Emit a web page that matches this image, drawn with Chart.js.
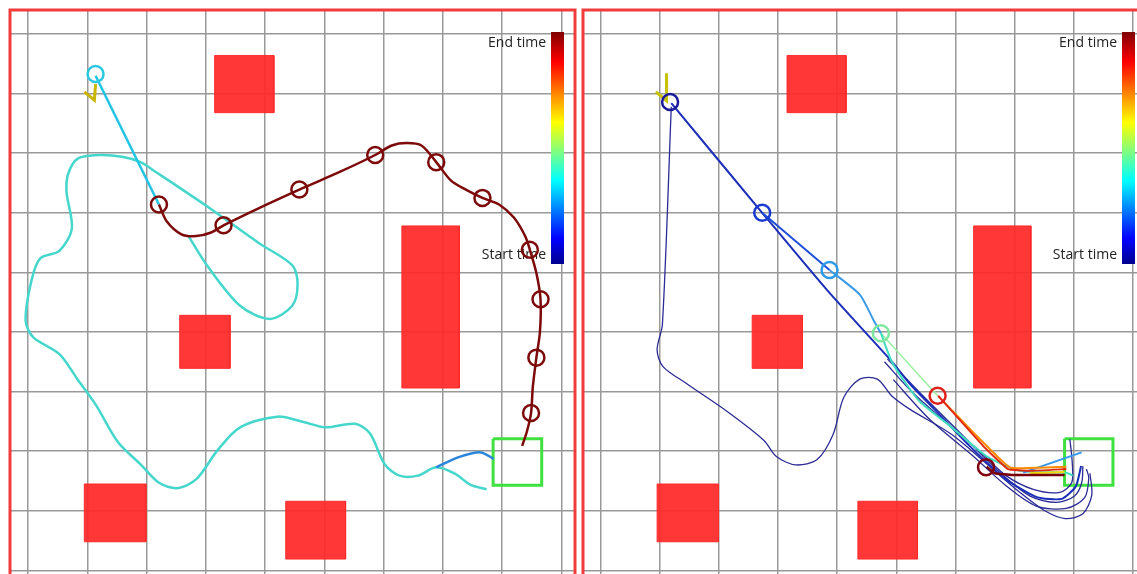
<!DOCTYPE html>
<html>
<head>
<meta charset="utf-8">
<script src="https://cdn.jsdelivr.net/npm/chart.js@4.4.0/dist/chart.umd.min.js"></script>
<style>
    html, body { margin: 0; padding: 0; background: #fff; overflow: hidden; }
    body { width: 1137px; height: 574px; position: relative; }
    .panel { position: absolute; top: 0; width: 580px; height: 600px; }
    #p1 { left: 0; }
    #p2 { left: 580px; }
</style>
</head>
<body>
<div class="panel" id="p1"><canvas id="chart"></canvas></div>
<div class="panel" id="p2"><canvas id="chart2"></canvas></div>
<script>
/**
 * Two maps side by side, grid cells of 1 unit, y grows downwards
 */

const gridTicks = [0, 1, 2, 3, 4, 5, 6, 7, 8, 9];

// obstacles as [x0, y0, x1, y1]
const obstacles = [
    [3.15, 0.36, 4.15, 1.32],
    [2.56, 4.72, 3.41, 5.61],
    [6.31, 3.22, 7.28, 5.94],
    [0.95, 7.55, 1.99, 8.52],
    [4.35, 7.84, 5.36, 8.81]
];
const goalBox = [7.85, 6.79, 8.67, 7.57];

// left map
const leftHeading = [[0.95, 0.97], [1.12, 1.11], [1.14, 0.84]];
const leftStart = [[1.14, 0.67]];
const leftFirstLeg = [[1.14, 0.70], [2.21, 2.86]];
const leftLoop = [
    [2.71, 3.39], [3.02, 3.88], [3.58, 4.56], [4.08, 4.78], [4.46, 4.56], [4.55, 4.19],
    [4.46, 3.88], [3.90, 3.51], [3.02, 2.89], [2.15, 2.31], [1.90, 2.15], [1.59, 2.06],
    [1.21, 2.03], [0.84, 2.09], [0.68, 2.34], [0.65, 2.65], [0.74, 3.26], [0.53, 3.64],
    [0.21, 3.76], [0.06, 4.13], [-0.04, 4.81], [0.09, 5.09], [0.53, 5.37], [0.84, 5.80],
    [1.15, 6.23], [1.52, 6.85], [1.90, 7.22], [2.21, 7.53], [2.52, 7.62], [2.84, 7.47],
    [3.21, 6.97], [3.58, 6.60], [4.21, 6.42], [4.65, 6.51], [5.02, 6.60], [5.52, 6.54],
    [5.77, 6.70], [6.02, 7.22], [6.27, 7.41], [6.58, 7.41], [6.89, 7.27], [7.21, 7.38],
    [7.46, 7.56], [7.74, 7.64]
];
const leftTail = [[6.89, 7.27], [7.27, 7.10], [7.64, 7.02], [7.86, 7.13]];
const leftReplan = [
    [2.21, 2.86], [2.34, 3.14], [2.59, 3.36], [2.84, 3.39], [3.09, 3.33], [3.30, 3.21],
    [3.90, 2.92], [4.58, 2.61], [5.27, 2.31], [5.86, 2.03], [6.14, 1.87], [6.39, 1.83],
    [6.64, 1.87], [6.89, 2.15], [7.14, 2.46], [7.39, 2.61], [7.67, 2.75], [7.95, 2.86],
    [8.20, 3.08], [8.39, 3.39], [8.47, 3.62], [8.58, 4.01], [8.65, 4.45], [8.64, 5.00],
    [8.58, 5.43], [8.52, 5.92], [8.49, 6.36], [8.42, 6.67], [8.34, 6.91]
];
const leftMarks = [
    [2.21, 2.86], [3.30, 3.21], [4.58, 2.61], [5.86, 2.03], [6.89, 2.15],
    [7.67, 2.75], [8.47, 3.62], [8.65, 4.45], [8.58, 5.43], [8.49, 6.36]
];

// right map
const rightHeading = [[1.11, 0.66], [1.11, 1.12], [0.93, 0.97]];
const rightDetour = [
    [1.19, 1.22], [1.04, 4.87], [0.95, 5.30], [1.05, 5.58], [1.44, 5.86], [2.16, 6.35],
    [2.76, 6.82], [2.97, 7.09], [3.30, 7.23], [3.66, 7.14], [3.93, 6.72], [4.11, 6.10],
    [4.38, 5.79], [4.68, 5.79], [4.92, 6.07], [5.22, 6.29], [5.94, 6.72], [6.54, 7.22],
    [7.08, 7.68], [7.50, 7.99], [7.86, 8.13], [8.16, 8.05], [8.31, 7.74], [8.28, 7.37]
];
const rightHook1 = [[4.80, 5.50], [5.28, 6.02], [5.85, 6.52], [6.41, 7.00], [6.86, 7.41], [7.32, 7.64], [7.77, 7.69], [7.97, 7.53], [7.98, 7.19], [7.94, 6.80]];
const rightHook2 = [[4.85, 5.45], [5.40, 6.02], [6.13, 6.74], [6.69, 7.30], [7.26, 7.75], [7.71, 7.86], [8.02, 7.75], [8.14, 7.53], [8.16, 7.25]];
const rightHook3 = [[4.95, 5.80], [5.56, 6.46], [6.30, 7.08], [6.86, 7.58], [7.37, 7.92], [7.88, 7.96], [8.19, 7.78], [8.26, 7.45], [8.22, 7.30]];
const rightMain = [[1.19, 1.16], [2.73, 3.00], [3.84, 4.31], [4.92, 5.49], [5.22, 5.86], [5.64, 6.29], [6.24, 6.91], [6.84, 7.46], [7.38, 7.77], [7.80, 7.80], [8.04, 7.59], [8.13, 7.25]];
const rightBlue = [[2.73, 3.00], [3.87, 3.96]];
const rightLightBlue = [[3.87, 3.96], [4.38, 4.37], [4.62, 4.81], [4.74, 5.02]];
const rightCyan = [[4.74, 5.02], [4.92, 5.49], [5.16, 5.86], [5.40, 6.17], [5.94, 6.60], [6.54, 7.09], [7.09, 7.33], [7.88, 7.36], [7.99, 7.41]];
const rightGreen = [[4.74, 5.02], [5.70, 6.07]];
const rightSky = [[7.15, 7.36], [8.14, 7.02]];
const rightYellow = [[7.26, 7.37], [7.85, 7.35]];
const rightOrange = [[5.79, 6.16], [6.92, 7.27], [7.88, 7.26]];
const rightRed = [[5.71, 6.07], [6.47, 6.91], [6.89, 7.30], [7.26, 7.33], [7.88, 7.30]];
const rightDarkRed = [[6.53, 7.26], [6.67, 7.37], [6.98, 7.40], [7.85, 7.40]];
const rightMarks = [[1.17, 1.14], [2.73, 3.00], [3.87, 3.96], [4.74, 5.02], [5.70, 6.07], [6.52, 7.27]];

const pts = arr => arr.map(([x, y]) => ({ x, y }));
const rect = ([x0, y0, x1, y1]) => [[x0, y0], [x1, y0], [x1, y1], [x0, y1], [x0, y0]];

function path(data, color, width, tension) {
    return {
        data: pts(data), borderColor: color, borderWidth: width,
        tension: tension === undefined ? 0.3 : tension,
        pointRadius: 0, fill: false
    };
}

function marks(data, color) {
    return {
        data: pts(data), showLine: false, pointRadius: 8,
        pointBorderColor: color, pointBorderWidth: 2.5,
        pointBackgroundColor: 'rgba(0,0,0,0)'
    };
}

function baseLayers() {
    const layers = obstacles.map(o => ({
        data: pts(rect(o)), borderColor: 'rgba(255,40,40,0.93)', borderWidth: 1,
        backgroundColor: 'rgba(255,40,40,0.93)', fill: 'shape', pointRadius: 0, tension: 0
    }));
    layers.push(path(rect(goalBox), '#3fe03f', 3, 0));
    return layers;
}

// jet colour bar with its two labels
const colorbar = {
    id: 'colorbar',
    beforeDatasetsDraw(chart, args, opts) {
        const { ctx, chartArea } = chart;
        const x = chartArea.right - opts.offset, y = chartArea.top + 22, w = 13, h = 232;
        const g = ctx.createLinearGradient(0, y + h, 0, y);
        g.addColorStop(0, '#00008f');
        g.addColorStop(0.11, '#0000ff');
        g.addColorStop(0.36, '#00ffff');
        g.addColorStop(0.61, '#ffff00');
        g.addColorStop(0.87, '#ff0000');
        g.addColorStop(1, '#800000');
        ctx.save();
        ctx.fillStyle = g;
        ctx.fillRect(x, y, w, h);
        ctx.fillStyle = '#222';
        ctx.font = '14px "Open Sans", sans-serif';
        ctx.textAlign = 'right';
        ctx.textBaseline = 'middle';
        ctx.fillText('End time', x - 5, y + 11);
        ctx.fillText('Start time', x - 5, y + h - 9);
        ctx.restore();
    }
};

// red frame round the map
const frame = {
    id: 'frame',
    afterDraw(chart) {
        const { ctx, chartArea: a } = chart;
        ctx.save();
        ctx.strokeStyle = '#f03c3c';
        ctx.lineWidth = 3;
        ctx.strokeRect(a.left, a.top, a.right - a.left, a.bottom - a.top);
        ctx.restore();
    }
};

function axis(min, max, reverse) {
    return {
        type: 'linear', min: min, max: max, reverse: reverse,
        afterBuildTicks: s => { s.ticks = gridTicks.map(v => ({ value: v })); },
        ticks: { display: false },
        grid: { color: '#999', lineWidth: 1.5, drawTicks: false },
        border: { display: false }
    };
}

function makeChart(id, datasets, xMin, xMax, barOffset, padding) {
    // first in the list is drawn at the bottom
    datasets.forEach((d, i) => { d.order = datasets.length - i; });
    return new Chart(id, {
        type: 'line',
        data: { datasets: datasets },
        options: {
            animation: false,
            responsive: true,
            maintainAspectRatio: false,
            layout: { padding: padding, autoPadding: false },
            plugins: {
                legend: { display: false },
                tooltip: { enabled: false },
                colorbar: { offset: barOffset }
            },
            scales: {
                x: axis(xMin, xMax, false),
                y: axis(-0.403, 9.245, true)
            }
        },
        plugins: [colorbar, frame]
    });
}

const leftSets = baseLayers().concat([
    path(leftLoop, '#45d6cc', 2.5),
    path(leftFirstLeg, '#22c4e4', 2.5, 0),
    path(leftTail, '#2a86dc', 2.5),
    path(leftHeading, '#c9b600', 3, 0),
    path(leftReplan, '#7d0a0a', 2.5),
    marks(leftStart, '#2cc8e0'),
    marks(leftMarks, '#7d0a0a')
]);
makeChart('chart', leftSets, -0.304, 9.232, 24, { left: 10, top: 10, right: 5, bottom: 15 });

const rightSets = baseLayers().concat([
    path(rightDetour, '#2b2b95', 1.3),
    path(rightHook1, '#2b2b95', 1.3),
    path(rightHook2, '#2b2b95', 1.3),
    path(rightHook3, '#2b2b95', 1.3),
    path(rightMain, '#1c2fb8', 2, 0.2),
    path(rightBlue, '#1e4fd8', 2, 0),
    path(rightLightBlue, '#3a9ae8', 2, 0.2),
    path(rightGreen, '#98f0a0', 1.5, 0),
    path(rightCyan, '#3fdcc0', 2, 0.2),
    path(rightSky, '#3399ee', 2, 0),
    path(rightYellow, '#f0d800', 2, 0),
    path(rightOrange, '#ff8c00', 2, 0.1),
    path(rightRed, '#e02a10', 2, 0.1),
    path(rightDarkRed, '#7a0008', 2.5, 0.1),
    path(rightHeading, '#c8c000', 3, 0),
    marks(rightMarks, ['#1a1a9a', '#1a3ad0', '#2f9ae6', '#7ee8a0', '#e0201a', '#800010'])
]);
makeChart('chart2', rightSets, -0.305, 9.263, 26, { left: 3, top: 10, right: 12, bottom: 15 });
</script>
</body>
</html>
